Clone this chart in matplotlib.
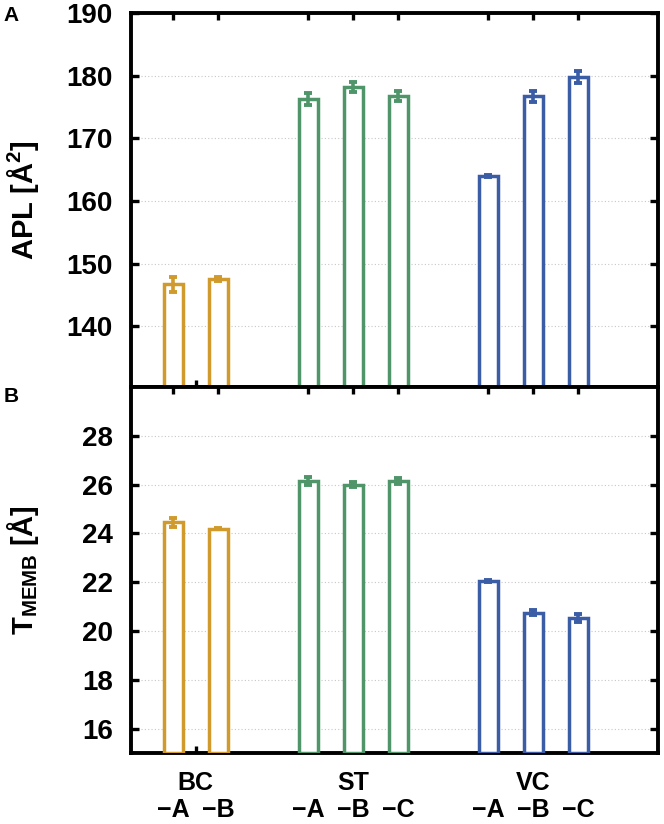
import numpy as np
import matplotlib
matplotlib.use('Agg')
import matplotlib.pyplot as plt
from matplotlib.transforms import blended_transform_factory

plt.rcParams['font.family'] = ['Liberation Sans', 'DejaVu Sans']
plt.rcParams['font.weight'] = 'bold'
plt.rcParams['mathtext.fontset'] = 'custom'
plt.rcParams['mathtext.rm'] = 'Liberation Sans:bold'
plt.rcParams['mathtext.bf'] = 'Liberation Sans:bold'
plt.rcParams['mathtext.default'] = 'bf'

# datos
grupos = ['BC', 'ST', 'VC']
sistemas = ['BC-A', 'BC-B', 'ST-A', 'ST-B', 'ST-C', 'VC-A', 'VC-B', 'VC-C']
sub_etiquetas = ['\u2212A', '\u2212B', '\u2212A', '\u2212B', '\u2212C', '\u2212A', '\u2212B', '\u2212C']
grupo_de = [0, 0, 1, 1, 1, 2, 2, 2]
posiciones = [0, 1, 3, 4, 5, 7, 8, 9]

apl = [146.7, 147.5, 176.3, 178.2, 176.7, 164.0, 176.7, 179.8]
apl_err = [1.2, 0.3, 1.0, 0.8, 0.8, 0.2, 0.9, 1.0]

tmemb = [24.45, 24.2, 26.15, 26.0, 26.15, 22.03, 20.74, 20.53]
tmemb_err = [0.2, 0.03, 0.15, 0.1, 0.12, 0.04, 0.1, 0.15]

colores_grupo = ['#D09A2C', '#4F9569', '#3A5DA5']
colores = [colores_grupo[g] for g in grupo_de]

fig = plt.figure(figsize=(6.64, 8.24), dpi=100)
ax1 = fig.add_axes([0.1973, 0.5303, 0.7937, 0.4539])
ax2 = fig.add_axes([0.1973, 0.0862, 0.7937, 0.4441])

ancho = 0.42

def dibujar(ax, valores, errores, ylim, yticks):
    for x, v, e, c in zip(posiciones, valores, errores, colores):
        ax.bar(x, v - ylim[0], bottom=ylim[0], width=ancho, facecolor='white',
               edgecolor=c, linewidth=2.5, zorder=3)
        ax.errorbar(x, v, yerr=e, color=c, elinewidth=2.6, capsize=3,
                    capthick=2.8, zorder=4)
    ax.set_ylim(ylim)
    ax.set_xlim(-0.94, 10.77)
    ax.set_yticks(yticks)
    ax.yaxis.grid(True, linestyle=(0, (1, 2)), color='#c8c8c8', linewidth=0.8)
    ax.set_axisbelow(True)
    for s in ax.spines.values():
        s.set_linewidth(2.8)
    ax.tick_params(axis='y', direction='in', length=6, width=2.4, right=True,
                   labelsize=20, pad=13)
    # ticks de las barras arriba, tick central de BC abajo
    ax.set_xticks(posiciones)
    ax.tick_params(axis='x', which='major', direction='in', length=5, width=2.4,
                   top=True, bottom=False, labelbottom=False)
    ax.set_xticks([0.5], minor=True)
    ax.tick_params(axis='x', which='minor', direction='in', length=5, width=2.4,
                   top=False, bottom=True)
    for lab in ax.get_yticklabels():
        lab.set_fontweight('bold')

dibujar(ax1, apl, apl_err, (130.3, 190), [140, 150, 160, 170, 180, 190])
dibujar(ax2, tmemb, tmemb_err, (15, 30), [16, 18, 20, 22, 24, 26, 28])

ax1.set_ylabel('APL [\u00c5$^{2}$]', fontsize=21, fontweight='bold')
ax2.set_ylabel('T$_{MEMB}$ [\u00c5]', fontsize=21, fontweight='bold')
ax1.yaxis.set_label_coords(-0.17, 0.5)
ax2.yaxis.set_label_coords(-0.17, 0.5)

# etiquetas del eje x
trans = blended_transform_factory(ax2.transData, ax2.transAxes)
for g, nombre in enumerate(grupos):
    xs = [p for p, gg in zip(posiciones, grupo_de) if gg == g]
    ax2.text(np.mean(xs), -0.082, nombre, transform=trans, ha='center', va='center',
             fontsize=18, fontweight='bold')
for p, s in zip(posiciones, sub_etiquetas):
    ax2.text(p, -0.155, s, transform=trans, ha='center', va='center',
             fontsize=18, fontweight='bold')

fig.text(0.006, 0.981, 'A', fontsize=15, fontweight='bold', va='center')
fig.text(0.006, 0.519, 'B', fontsize=15, fontweight='bold', va='center')

fig.savefig('out.png', dpi=100)
